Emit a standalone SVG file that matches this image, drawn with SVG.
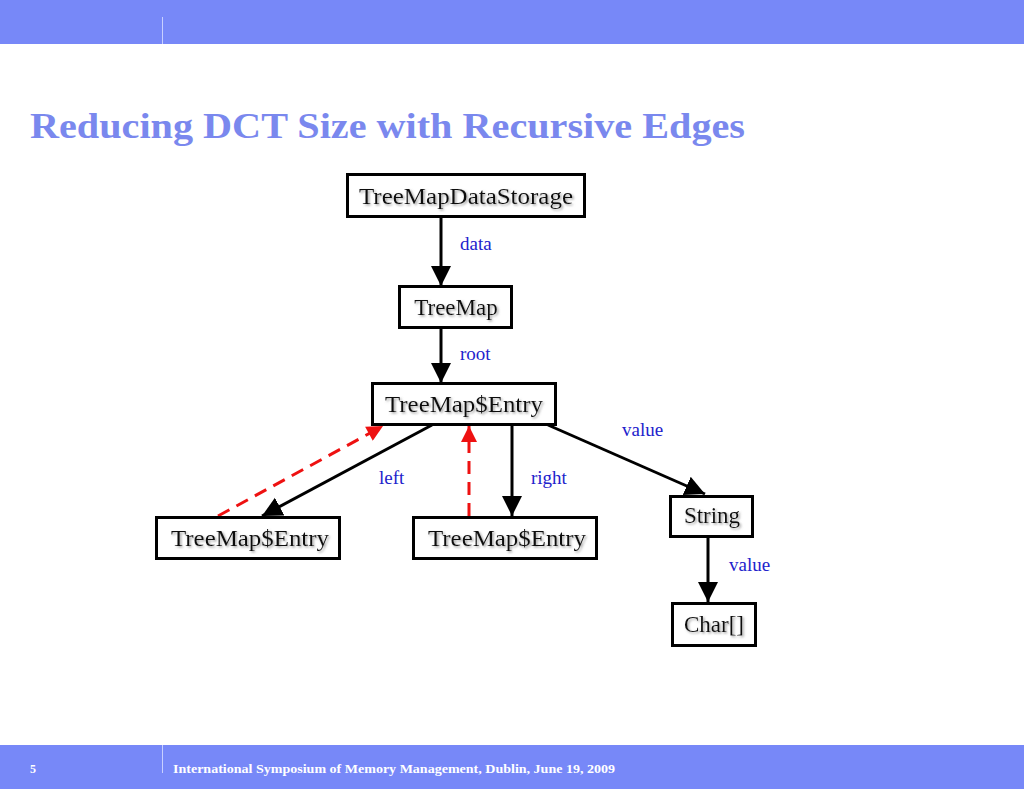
<svg xmlns="http://www.w3.org/2000/svg" width="1024" height="789" viewBox="0 0 1024 789">
<defs>
<style>
.box{fill:#fff;stroke:#000;stroke-width:3}
.nt{font-family:"Liberation Serif",serif;font-size:23px;fill:#111;text-anchor:middle;filter:url(#sh)}
.lb{font-family:"Liberation Serif",serif;font-size:19px;fill:#2222cc}
.e{stroke:#000;stroke-width:3;fill:none}
.r{stroke:#ee1111;stroke-width:3;fill:none;stroke-dasharray:13,8}
</style>
<filter id="sh" x="-10%" y="-30%" width="120%" height="160%">
<feDropShadow dx="1.5" dy="1.5" stdDeviation="0.8" flood-color="#888" flood-opacity="0.8"/>
</filter>
<marker id="ar" viewBox="0 0 10 10" refX="10" refY="5" markerWidth="18" markerHeight="16" markerUnits="userSpaceOnUse" orient="auto">
<path d="M0,0 L10,5 L0,10 z" fill="#ee1111"/>
</marker>
<marker id="ak" viewBox="0 0 10 10" refX="10" refY="5" markerWidth="20" markerHeight="22" markerUnits="userSpaceOnUse" orient="auto">
<path d="M0,0 L10,5 L0,10 z" fill="#000"/>
</marker>
</defs>
<rect x="0" y="0" width="1024" height="789" fill="#fff"/>
<rect x="0" y="0" width="1024" height="44" fill="#7788f8"/>
<line x1="162.5" y1="17" x2="162.5" y2="44" stroke="#c8d0ff" stroke-width="1"/>
<rect x="0" y="745" width="1024" height="44" fill="#7788f8"/>
<line x1="162.5" y1="745" x2="162.5" y2="773" stroke="#c8d0ff" stroke-width="1"/>
<text x="30" y="773" font-family="Liberation Serif,serif" font-size="12" font-weight="bold" fill="#fff">5</text>
<text x="173" y="773" font-family="Liberation Serif,serif" font-size="12" font-weight="bold" fill="#fff" textLength="442" lengthAdjust="spacingAndGlyphs">International Symposium of Memory Management, Dublin, June 19, 2009</text>
<text x="30" y="138" font-family="Liberation Serif,serif" font-size="35" font-weight="bold" fill="#7a88ee" textLength="715" lengthAdjust="spacingAndGlyphs">Reducing DCT Size with Recursive Edges</text>

<g id="connectors">
<line class="e" x1="441" y1="217" x2="441" y2="286" marker-end="url(#ak)"/>
<line class="e" x1="441" y1="328" x2="441" y2="383" marker-end="url(#ak)"/>
<line class="e" x1="432" y1="425" x2="262" y2="516" marker-end="url(#ak)"/>
<line class="e" x1="512" y1="425" x2="512" y2="516" marker-end="url(#ak)"/>
<line class="e" x1="548" y1="425" x2="705" y2="494" marker-end="url(#ak)"/>
<line class="e" x1="708" y1="537" x2="708" y2="602" marker-end="url(#ak)"/>
<line class="r" x1="218" y1="516" x2="383" y2="426" marker-end="url(#ar)"/>
<line class="r" x1="469" y1="516" x2="469" y2="426" marker-end="url(#ar)"/>
<text class="lb" x="460" y="250">data</text>
<text class="lb" x="460" y="360">root</text>
<text class="lb" x="379" y="484">left</text>
<text class="lb" x="531" y="484">right</text>
<text class="lb" x="622" y="436">value</text>
<text class="lb" x="729" y="571">value</text>
</g>

<g id="n_storage"><rect class="box" x="347.5" y="174.5" width="237" height="42"/><text class="nt" x="466" y="204" textLength="214" lengthAdjust="spacingAndGlyphs">TreeMapDataStorage</text></g>
<g id="n_treemap"><rect class="box" x="399.5" y="286.5" width="112" height="41"/><text class="nt" x="456" y="315">TreeMap</text></g>
<g id="n_entry"><rect class="box" x="372.5" y="383.5" width="183" height="41"/><text class="nt" x="464" y="412" textLength="158" lengthAdjust="spacingAndGlyphs">TreeMap$Entry</text></g>
<g id="n_left"><rect class="box" x="156.5" y="517.5" width="183" height="41"/><text class="nt" x="250" y="546" textLength="158" lengthAdjust="spacingAndGlyphs">TreeMap$Entry</text></g>
<g id="n_right"><rect class="box" x="413.5" y="517.5" width="183" height="41"/><text class="nt" x="507" y="546" textLength="158" lengthAdjust="spacingAndGlyphs">TreeMap$Entry</text></g>
<g id="n_string"><rect class="box" x="670.5" y="496.5" width="82" height="40"/><text class="nt" x="712" y="523">String</text></g>
<g id="n_char"><rect class="box" x="672.5" y="603.5" width="83" height="42"/><text class="nt" x="714" y="632">Char[]</text></g>
</svg>
